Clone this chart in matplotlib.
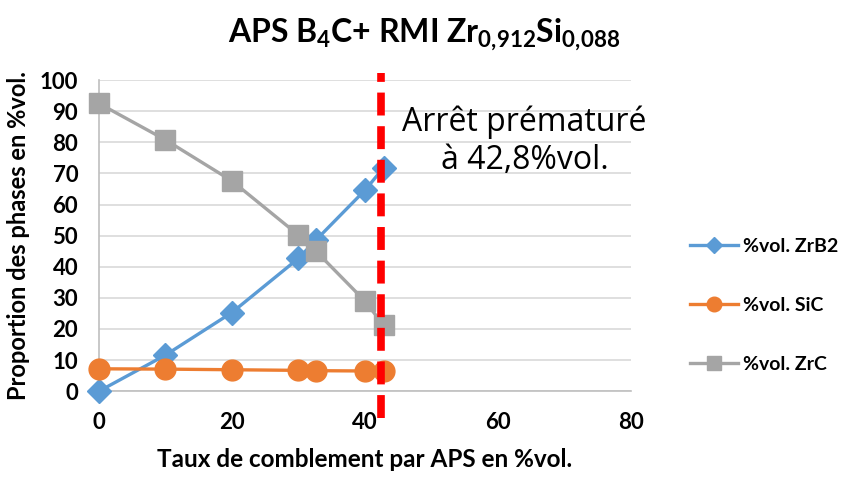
import matplotlib.pyplot as plt

plt.rcParams['font.family'] = ['Lato', 'DejaVu Sans']
plt.rcParams['mathtext.fontset'] = 'custom'
plt.rcParams['mathtext.bf'] = 'Lato:bold'
plt.rcParams['mathtext.rm'] = 'Lato:bold'
plt.rcParams['mathtext.default'] = 'bf'

# taux de comblement (%vol.)
x = [0, 10, 20, 30, 32.6, 40, 42.8]
zrb2 = [0, 11.6, 25.3, 42.7, 48.5, 64.6, 71.8]
sic = [7.2, 7.1, 6.9, 6.7, 6.6, 6.5, 6.4]
zrc = [92.5, 80.8, 67.6, 50.2, 45.1, 29.0, 21.2]
arret = 42.4

fig = plt.figure(figsize=(8.49, 4.80), dpi=100)
ax = fig.add_axes([0.1166, 0.185, 0.6264, 0.648])

ax.plot(x, zrb2, color='#5b9bd5', lw=2.4, marker='D', ms=12, label='%vol. ZrB2', zorder=3, clip_on=False)
ax.plot(x, sic, color='#ed7d31', lw=2.4, marker='o', ms=15, label='%vol. SiC', zorder=4, clip_on=False)
ax.plot(x, zrc, color='#a5a5a5', lw=2.4, marker='s', ms=15, label='%vol. ZrC', zorder=5, clip_on=False)
ax.axvline(arret, ymin=-0.087, ymax=1.023, color='#ff0000', lw=5.5, ls=(0, (3, 1.4)), zorder=6, clip_on=False)

ax.text(64, 80.5, 'Arrêt prématuré\nà 42,8%vol.', fontsize=23, ha='center', va='center',
        linespacing=1.2, family=['Open Sans', 'DejaVu Sans'])

ax.set_xlim(0, 80)
ax.set_ylim(0, 100)
ax.set_xticks(range(0, 81, 20))
ax.set_yticks(range(0, 101, 10))
ax.tick_params(length=0, labelsize=16)
ax.tick_params(axis='x', pad=15)
ax.tick_params(axis='y', pad=15)
for lab in ax.get_xticklabels() + ax.get_yticklabels():
    lab.set_fontweight('bold')
ax.yaxis.grid(True, color='#d9d9d9', lw=1.2)
ax.set_axisbelow(True)
for s in ['top', 'right']:
    ax.spines[s].set_visible(False)
ax.spines['left'].set_color('#bfbfbf')
ax.spines['bottom'].set_color('#bfbfbf')
ax.spines['left'].set_linewidth(1.2)
ax.spines['bottom'].set_linewidth(1.2)

ax.set_xlabel('Taux de comblement par APS en %vol.', fontsize=17.5, fontweight='bold', labelpad=11)
ax.set_ylabel('Proportion des phases en %vol.', fontsize=17, fontweight='bold', labelpad=7)

fig.text(0.5, 0.927, r'APS B$_4$C+ RMI Zr$_{0{,}912}$Si$_{0{,}088}$', fontsize=23,
         fontweight='bold', ha='center', va='center')

leg = ax.legend(loc='center left', bbox_to_anchor=(1.111, 0.2765), frameon=False, fontsize=14,
                handlelength=2.5, handletextpad=0.25, labelspacing=2.15, markerscale=0.7,
                borderpad=0, borderaxespad=0)
for t in leg.get_texts():
    t.set_fontweight('bold')

fig.savefig('out.png', dpi=100)
